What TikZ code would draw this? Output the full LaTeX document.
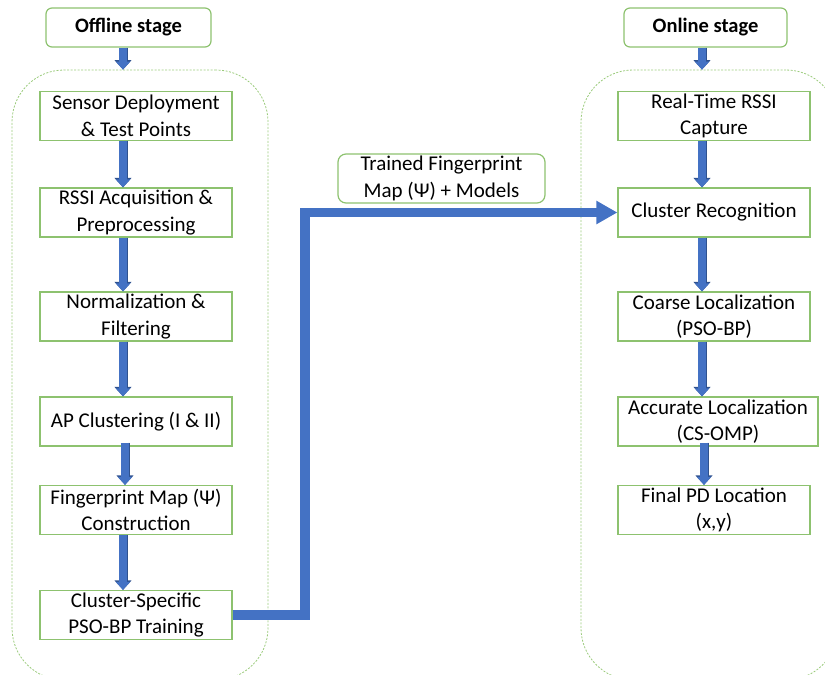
\documentclass[tikz,border=0pt]{standalone}
\usepackage{fontspec}
\setmainfont{Carlito}
\usetikzlibrary{arrows.meta}
\definecolor{bgreen}{HTML}{8DC26F}
\definecolor{cgreen}{HTML}{9BCB7C}
\definecolor{ablue}{HTML}{4472C4}
\definecolor{adark}{HTML}{2F528F}
\begin{document}
\begin{tikzpicture}[x=1pt,y=-1pt,
  every node/.style={font=\fontsize{21}{26.5}\selectfont, align=center, inner sep=0pt, text=black},
  pbox/.style={draw=bgreen, line width=1.2pt, rectangle, minimum width=192pt, minimum height=49pt},
  stagebox/.style={draw=bgreen, line width=1.2pt, rectangle, rounded corners=6pt, minimum height=39pt, font=\fontsize{20.5}{26}\selectfont\bfseries},
  container/.style={draw=cgreen, line width=0.8pt, dash pattern=on 2pt off 1.5pt, rectangle, rounded corners=52pt},
  barrow/.style={line width=7.5pt, draw=ablue, -{Triangle[width=14pt,length=8pt]},
     preaction={draw=adark, line width=9pt, -{Triangle[width=16.5pt,length=9.5pt]}}},
  bigarrow/.style={line width=9.5pt, draw=ablue, -{Triangle[width=22pt,length=21pt]}}
]
\useasboundingbox (0,0) rectangle (825,675);
\clip (0,0) rectangle (825,675);

% containers
\node[container, minimum width=256pt, minimum height=610pt] (offc) at (140,375) {};
\node[container, minimum width=257pt, minimum height=610pt] (onc) at (709.5,375) {};

% stage boxes
\node[stagebox, minimum width=165pt] (off) at (128.5,27.5) {Offline stage};
\node[stagebox, minimum width=163pt] (on) at (705.5,27.5) {Online stage};

% offline boxes
\node[pbox] (l1) at (136,116) {Sensor Deployment\\\& Test Points};
\node[pbox] (l2) at (136,212.5) {RSSI Acquisition \&\\Preprocessing};
\node[pbox] (l3) at (136,316.5) {Normalization \&\\Filtering};
\node[pbox] (l4) at (136,421.5) {AP Clustering (I \& II)};
\node[pbox] (l5) at (136,510) {Fingerprint Map (Ψ)\\Construction};
\node[pbox] (l6) at (136,615) {Cluster-Specific\\PSO-BP Training};

% online boxes
\node[pbox] (r1) at (714,116) {Real-Time RSSI\\Capture};
\node[pbox] (r2) at (714,212.5) {Cluster Recognition};
\node[pbox] (r3) at (714,316.5) {Coarse Localization\\(PSO-BP)};
\node[pbox, minimum width=200pt] (r4) at (718,421.5) {Accurate Localization\\(CS-OMP)};
\node[pbox] (r5) at (714,510) {Final PD Location\\(x,y)};

% label box
\node[draw=bgreen, line width=1.2pt, rectangle, rounded corners=8pt, minimum width=207pt, minimum height=49pt] (lab) at (441.5,178.5) {Trained Fingerprint\\Map (Ψ) + Models};

% arrow columns
\coordinate (lx) at (123,0);
\coordinate (lx2) at (125,0);
\coordinate (rx) at (702,0);
\coordinate (rx2) at (704,0);
\coordinate (vx) at (305,0);

\draw[barrow] (off.south -| lx) -- (offc.north -| lx);
\draw[barrow] (l1.south -| lx) -- (l2.north -| lx);
\draw[barrow] (l2.south -| lx) -- (l3.north -| lx);
\draw[barrow] (l3.south -| lx) -- (l4.north -| lx);
\draw[barrow] ([yshift=4pt]l4.south -| lx2) -- (l5.north -| lx2);
\draw[barrow] (l5.south -| lx) -- (l6.north -| lx);

\draw[barrow] (on.south -| rx) -- (onc.north -| rx);
\draw[barrow] (r1.south -| rx) -- (r2.north -| rx);
\draw[barrow] (r2.south -| rx) -- (r3.north -| rx);
\draw[barrow] (r3.south -| rx) -- (r4.north -| rx);
\draw[barrow] ([yshift=4pt]r4.south -| rx2) -- (r5.north -| rx2);

\draw[bigarrow] (l6.east) -- (l6.east -| vx) |- (r2.west);
\end{tikzpicture}
\end{document}
